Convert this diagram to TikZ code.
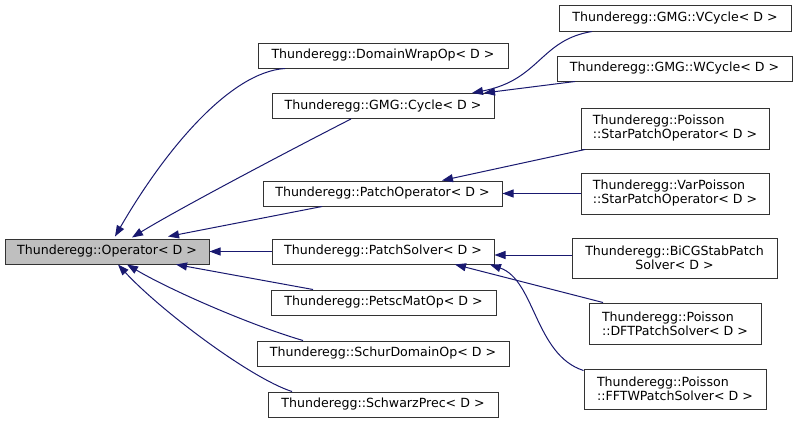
\documentclass[tikz,border=0pt]{standalone}
\usepackage{fontspec}
\setmainfont{DejaVu Sans}
\usetikzlibrary{arrows.meta}
\definecolor{edgeblue}{RGB}{25,25,112}
\definecolor{rootfill}{RGB}{191,191,191}
\tikzset{
  cls/.style={draw=black!80, line width=1pt, fill=white, inner sep=0pt, font=\fontsize{12.6}{14}\selectfont, minimum height=25pt},
  root/.style={cls, fill=rootfill},
  edge/.style={draw=edgeblue, line width=1pt, -{Triangle[length=11pt,width=8pt]}}
}
\begin{document}
\begin{tikzpicture}[x=1pt,y=-1pt]
\useasboundingbox[fill=white] (0,0) rectangle (797,423);
% nodes
\node[root, minimum width=204pt] (op) at (107,251.5) {Thunderegg::Operator< D >};
\node[cls, minimum width=250pt] (dw) at (383,55.5) {Thunderegg::DomainWrapOp< D >};
\node[cls, minimum width=222pt] (cyc) at (383,106) {Thunderegg::GMG::Cycle< D >};
\node[cls, minimum width=239pt] (po) at (382.5,193.5) {Thunderegg::PatchOperator< D >};
\node[cls, minimum width=222pt] (psol) at (383,251.5) {Thunderegg::PatchSolver< D >};
\node[cls, minimum width=225pt] (pm) at (383.5,302.5) {Thunderegg::PetscMatOp< D >};
\node[cls, minimum width=252pt] (sd) at (383,353.5) {Thunderegg::SchurDomainOp< D >};
\node[cls, minimum width=230pt] (sp) at (383,404.5) {Thunderegg::SchwarzPrec< D >};
\node[cls, minimum width=232pt, minimum height=26pt] (vc) at (675,18) {Thunderegg::GMG::VCycle< D >};
\node[cls, minimum width=235pt] (wc) at (674.5,68.5) {Thunderegg::GMG::WCycle< D >};
\node[cls, minimum width=188pt, minimum height=41pt, align=left] (ps) at (675,128.5) {Thunderegg::Poisson\\::StarPatchOperator< D >};
\node[cls, minimum width=188pt, minimum height=41pt, align=left] (vp) at (675,193.5) {Thunderegg::VarPoisson\\::StarPatchOperator< D >};
\node[cls, minimum width=205pt, minimum height=40pt, align=center] (bi) at (674.5,258) {Thunderegg::BiCGStabPatch\\Solver< D >};
\node[cls, minimum width=172pt, minimum height=41pt, align=left] (dft) at (675,323.5) {Thunderegg::Poisson\\::DFTPatchSolver< D >};
\node[cls, minimum width=182pt, minimum height=40pt, align=left] (fftw) at (675,389) {Thunderegg::Poisson\\::FFTWPatchSolver< D >};
% edges to Operator
\draw[edge] ([xshift=-98pt]dw.south) .. controls (230,72) and (165,150) .. ([xshift=8pt,yshift=2pt]op.north);
\draw[edge] ([xshift=-32pt]cyc.south) .. controls (300,145) and (180,208) .. ([xshift=25pt,yshift=1pt]op.north);
\draw[edge] ([xshift=-60.5pt]po.south) -- ([xshift=61pt,yshift=2pt]op.north);
\draw[edge] (psol.west) -- (op.east);
\draw[edge] ([xshift=-70.5pt]pm.north) -- ([xshift=69pt]op.south);
\draw[edge] ([xshift=-80pt]sd.north) .. controls (250,325) and (170,290) .. ([xshift=20pt]op.south);
\draw[edge] ([xshift=-91pt]sp.north) .. controls (250,378) and (160,310) .. ([xshift=11pt]op.south);
% edges to Cycle
\draw[edge] ([xshift=-83pt]vc.south) .. controls (540,40) and (540,80) .. ([xshift=89pt]cyc.north);
\draw[edge] ([xshift=-99.5pt]wc.south) -- ([xshift=101pt]cyc.north);
% edges to PatchOperator
\draw[edge] ([xshift=-90pt]ps.south) -- ([xshift=59.5pt]po.north);
\draw[edge] (vp.west) -- (po.east);
% edges to PatchSolver
\draw[edge] ([yshift=3pt]bi.west) -- ([yshift=-3.5pt]psol.east);
\draw[edge] ([xshift=-72pt]dft.north) -- ([xshift=72pt]psol.south);
\draw[edge] ([yshift=-2pt]fftw.north west) .. controls (535,355) and (535,280) .. ([xshift=107pt]psol.south);
\end{tikzpicture}
\end{document}
